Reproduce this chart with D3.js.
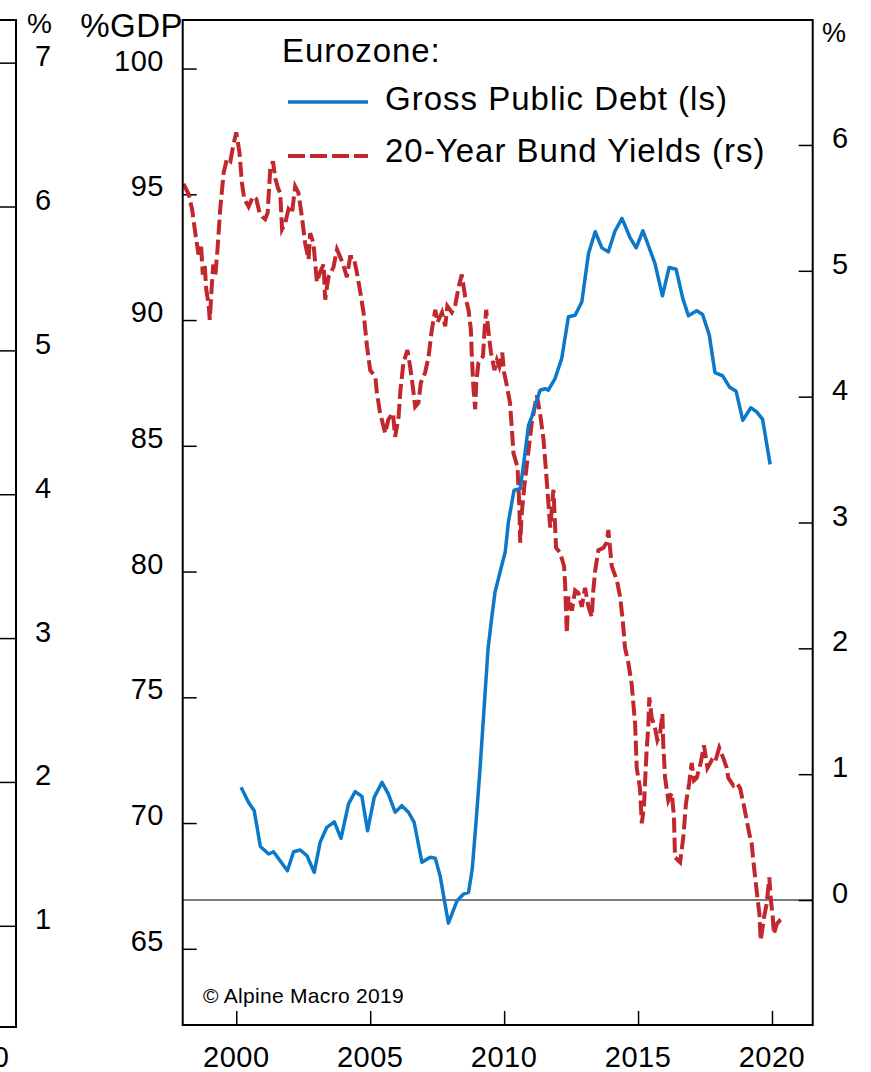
<!DOCTYPE html>
<html><head><meta charset="utf-8">
<script src="https://cdn.jsdelivr.net/npm/d3@7"></script>
<style>body{margin:0;background:#fff}svg{display:block}text{font-family:"Liberation Sans",Arial,sans-serif;fill:#000}</style>
</head><body><svg id="c" width="871" height="1072"></svg>
<script>
// ---- data ----
const debtYears = [2000.18,2000.46,2000.67,2000.90,2001.21,2001.39,2001.91,2002.14,2002.39,2002.64,2002.91,2003.13,2003.38,2003.66,2003.91,2004.19,2004.44,2004.69,2004.90,2005.15,2005.44,2005.68,2005.93,2006.18,2006.43,2006.64,2006.93,2007.24,2007.43,2007.61,2007.92,2008.24,2008.48,2008.67,2008.81,2008.96,2009.10,2009.25,2009.40,2009.54,2009.66,2009.91,2010.04,2010.16,2010.37,2010.60,2010.72,2010.91,2011.03,2011.34,2011.53,2011.65,2011.90,2012.15,2012.40,2012.65,2012.90,2013.15,2013.40,2013.65,2013.89,2014.14,2014.40,2014.70,2014.93,2015.18,2015.38,2015.63,2015.91,2016.16,2016.42,2016.67,2016.88,2017.19,2017.41,2017.66,2017.87,2018.16,2018.41,2018.66,2018.91,2019.21,2019.43,2019.65,2019.93];
const debtValues = [71.42,70.82,70.49,69.07,68.77,68.86,68.10,68.86,68.93,68.70,68.04,69.23,69.83,70.05,69.39,70.76,71.25,71.06,69.69,71.02,71.62,71.15,70.43,70.69,70.43,70.03,68.44,68.64,68.60,67.90,66.02,66.91,67.17,67.24,68.17,70.16,72.15,74.54,76.93,78.19,79.18,80.24,80.77,81.97,83.23,83.29,84.22,85.81,86.15,87.21,87.27,87.21,87.67,88.47,90.13,90.19,90.72,92.65,93.51,92.87,92.71,93.54,94.04,93.28,92.87,93.55,92.98,92.25,90.96,92.09,92.02,90.86,90.17,90.37,90.22,89.40,87.91,87.78,87.34,87.17,86.01,86.51,86.35,86.05,84.26];
const yieldYears = [1998.03,1998.22,1998.35,1998.47,1998.59,1998.69,1998.75,1998.82,1998.88,1998.97,1999.01,1999.09,1999.14,1999.22,1999.30,1999.40,1999.53,1999.65,1999.78,1999.88,2000.00,2000.12,2000.21,2000.30,2000.46,2000.62,2000.75,2000.87,2000.97,2001.08,2001.17,2001.27,2001.37,2001.46,2001.57,2001.64,2001.71,2001.83,2001.95,2002.08,2002.20,2002.32,2002.45,2002.57,2002.70,2002.76,2002.88,2003.01,2003.13,2003.26,2003.32,2003.44,2003.63,2003.76,2003.88,2003.99,2004.13,2004.25,2004.38,2004.50,2004.63,2004.75,2004.88,2005.00,2005.19,2005.25,2005.37,2005.56,2005.68,2005.85,2005.93,2006.06,2006.12,2006.24,2006.39,2006.49,2006.59,2006.68,2006.80,2006.89,2007.05,2007.18,2007.30,2007.43,2007.51,2007.68,2007.80,2007.88,2008.05,2008.17,2008.30,2008.42,2008.54,2008.67,2008.76,2008.79,2008.85,2008.92,2008.96,2009.04,2009.21,2009.27,2009.33,2009.38,2009.45,2009.51,2009.64,2009.73,2009.82,2009.93,2010.00,2010.10,2010.22,2010.29,2010.35,2010.50,2010.57,2010.60,2010.66,2010.75,2010.87,2011.03,2011.22,2011.34,2011.47,2011.57,2011.65,2011.72,2011.84,2011.88,2011.94,2012.09,2012.24,2012.28,2012.34,2012.40,2012.53,2012.65,2012.77,2012.90,2013.02,2013.15,2013.27,2013.33,2013.40,2013.52,2013.71,2013.83,2013.89,2014.02,2014.21,2014.33,2014.43,2014.51,2014.64,2014.76,2014.89,2014.95,2015.07,2015.14,2015.22,2015.26,2015.32,2015.38,2015.42,2015.51,2015.63,2015.72,2015.82,2015.91,2015.94,2016.01,2016.13,2016.26,2016.34,2016.38,2016.57,2016.69,2016.79,2016.91,2017.00,2017.09,2017.19,2017.34,2017.46,2017.59,2017.75,2017.87,2018.03,2018.18,2018.31,2018.37,2018.56,2018.68,2018.81,2018.96,2019.06,2019.15,2019.24,2019.33,2019.43,2019.53,2019.58,2019.70,2019.80,2019.90,2019.95,2020.03,2020.07,2020.18,2020.30,2020.42];
const yieldValues = [5.69,5.61,5.49,5.30,5.13,5.19,4.97,5.05,4.85,4.73,4.61,4.89,5.05,4.97,5.17,5.49,5.78,5.89,5.87,5.99,6.10,5.94,5.70,5.57,5.51,5.59,5.57,5.46,5.43,5.41,5.46,5.81,5.87,5.73,5.65,5.62,5.33,5.38,5.49,5.46,5.67,5.62,5.43,5.22,5.09,5.30,5.22,4.91,4.99,5.05,4.77,4.95,5.03,5.17,5.11,5.05,4.95,5.11,5.11,4.99,4.83,4.67,4.40,4.21,4.16,4.03,3.87,3.71,3.82,3.87,3.68,3.84,4.03,4.27,4.37,4.24,4.08,3.92,3.95,4.11,4.19,4.32,4.53,4.69,4.59,4.67,4.56,4.72,4.67,4.72,4.87,4.97,4.80,4.69,4.53,4.35,4.08,3.90,4.11,4.27,4.32,4.53,4.69,4.59,4.45,4.35,4.21,4.29,4.24,4.35,4.19,4.09,3.95,3.74,3.55,3.44,3.12,2.84,3.08,3.28,3.50,3.79,4.01,3.87,3.66,3.39,3.16,2.96,3.26,3.08,2.80,2.76,2.65,2.49,2.12,2.41,2.30,2.46,2.44,2.33,2.48,2.33,2.25,2.46,2.62,2.78,2.80,2.84,2.94,2.65,2.54,2.41,2.22,2.01,1.88,1.72,1.40,1.05,0.89,0.61,0.74,0.93,1.19,1.37,1.61,1.45,1.37,1.27,1.32,1.48,1.24,0.97,0.79,0.85,0.66,0.34,0.30,0.50,0.77,0.93,1.09,0.95,0.97,1.09,1.23,1.05,1.11,1.09,1.21,1.13,1.05,0.97,0.91,0.93,0.89,0.74,0.63,0.53,0.45,0.26,0.07,-0.11,-0.32,-0.14,-0.03,0.18,0.02,-0.14,-0.27,-0.19,-0.16,-0.14];
const xTicks = [2000, 2005, 2010, 2015, 2020];
const leftTicks = [65, 70, 75, 80, 85, 90, 95, 100];
const rightTicks = [0, 1, 2, 3, 4, 5, 6];
const neighborTicks = [1, 2, 3, 4, 5, 6, 7];
const legendTitle = "Eurozone:";
const seriesNames = ["Gross Public Debt (ls)", "20-Year Bund Yields (rs)"];
const copyright = "\u00A9 Alpine Macro 2019";

// ---- layout ----
const L = 182.7, R = 812.7, T = 20, B = 1025;
const BLUE = "#0B78C8", RED = "#C1272D";
const svg = d3.select("#c");
svg.append("rect").attr("width", 871).attr("height", 1072).attr("fill", "#fff");

const x = d3.scaleLinear().domain([1998.0, 2021.52]).range([L, R]);
const yL = d3.scaleLinear().domain([61.97, 101.93]).range([B, T]);
const yR = d3.scaleLinear().domain([-0.993, 6.993]).range([B, T]);
const yN = d3.scaleLinear().domain([0.3, 7.3]).range([1027, 20]);

// ---- neighbour panel (cropped) ----
const nb = svg.append("g");
nb.append("path").attr("d", `M0,${T}H16V1027H0`).attr("fill", "none").attr("stroke", "#000").attr("stroke-width", 2);
nb.selectAll("line.nt").data(neighborTicks).join("line")
  .attr("x1", 0).attr("x2", 16).attr("y1", d => yN(d)).attr("y2", d => yN(d))
  .attr("stroke", "#000").attr("stroke-width", 1.5);
nb.selectAll("text.nl").data(neighborTicks).join("text")
  .attr("x", 35).attr("y", d => yN(d) + 3).attr("font-size", 29).text(d => d);
nb.append("text").attr("x", 27).attr("y", 33).attr("font-size", 28).text("%");
nb.append("text").attr("x", 9).attr("y", 1067).attr("text-anchor", "end").attr("font-size", 29).text("2020");

// ---- zero line ----
svg.append("line").attr("x1", L).attr("x2", R).attr("y1", yR(0)).attr("y2", yR(0))
  .attr("stroke", "#7a7a7a").attr("stroke-width", 2);

// ---- axes ----
const gl = svg.append("g").attr("transform", `translate(${L},0)`)
  .call(d3.axisRight(yL).tickValues(leftTicks).tickSize(14).tickFormat(""));
const gr = svg.append("g").attr("transform", `translate(${R},0)`)
  .call(d3.axisLeft(yR).tickValues(rightTicks).tickSize(14).tickFormat(""));
const gb = svg.append("g").attr("transform", `translate(0,${B})`)
  .call(d3.axisTop(x).tickValues(xTicks).tickSize(14).tickFormat(""));
[gl, gr, gb].forEach(g => { g.select(".domain").remove(); g.selectAll("line").attr("stroke", "#000").attr("stroke-width", 1.5); });

svg.selectAll("text.ll").data(leftTicks).join("text")
  .attr("x", 164).attr("y", d => yL(d) + 2).attr("text-anchor", "end").attr("font-size", 29).attr("letter-spacing", 0.5).text(d => d);
svg.selectAll("text.rl").data(rightTicks).join("text")
  .attr("x", 832).attr("y", d => yR(d) + 3).attr("font-size", 29).text(d => d);
svg.selectAll("text.xl").data(xTicks).join("text")
  .attr("x", d => x(d)).attr("y", 1067).attr("text-anchor", "middle").attr("font-size", 29).attr("letter-spacing", 0.5).text(d => d);
svg.append("text").attr("x", 183).attr("y", 37).attr("text-anchor", "end").attr("font-size", 33).attr("letter-spacing", 0.5).text("%GDP");
svg.append("text").attr("x", 822).attr("y", 42).attr("font-size", 27).text("%");

// ---- series ----
const debt = debtYears.map((d, i) => [d, debtValues[i]]);
const yld = yieldYears.map((d, i) => [d, yieldValues[i]]);
svg.append("path").datum(yld)
  .attr("d", d3.line().x(d => x(d[0])).y(d => yR(d[1])))
  .attr("fill", "none").attr("stroke", RED).attr("stroke-width", 4).attr("stroke-dasharray", "15,5");
svg.append("path").datum(debt)
  .attr("d", d3.line().x(d => x(d[0])).y(d => yL(d[1])))
  .attr("fill", "none").attr("stroke", BLUE).attr("stroke-width", 3.5).attr("stroke-linejoin", "round");

// ---- frame ----
svg.append("rect").attr("x", L).attr("y", T).attr("width", R - L).attr("height", B - T)
  .attr("fill", "none").attr("stroke", "#000").attr("stroke-width", 2);

// ---- legend ----
svg.append("text").attr("x", 282).attr("y", 62).attr("font-size", 33).attr("letter-spacing", 0.9).text(legendTitle);
svg.append("line").attr("x1", 288).attr("x2", 368).attr("y1", 102).attr("y2", 102).attr("stroke", BLUE).attr("stroke-width", 3.5);
svg.append("text").attr("x", 385).attr("y", 110).attr("font-size", 33).attr("letter-spacing", 1).text(seriesNames[0]);
svg.append("line").attr("x1", 288).attr("x2", 368).attr("y1", 156).attr("y2", 156).attr("stroke", RED).attr("stroke-width", 4).attr("stroke-dasharray", "17,5");
svg.append("text").attr("x", 385).attr("y", 162).attr("font-size", 33).attr("letter-spacing", 1).text(seriesNames[1]);

svg.append("text").attr("x", 203).attr("y", 1003).attr("font-size", 21).attr("letter-spacing", 0.3).text(copyright);
</script></body></html>
